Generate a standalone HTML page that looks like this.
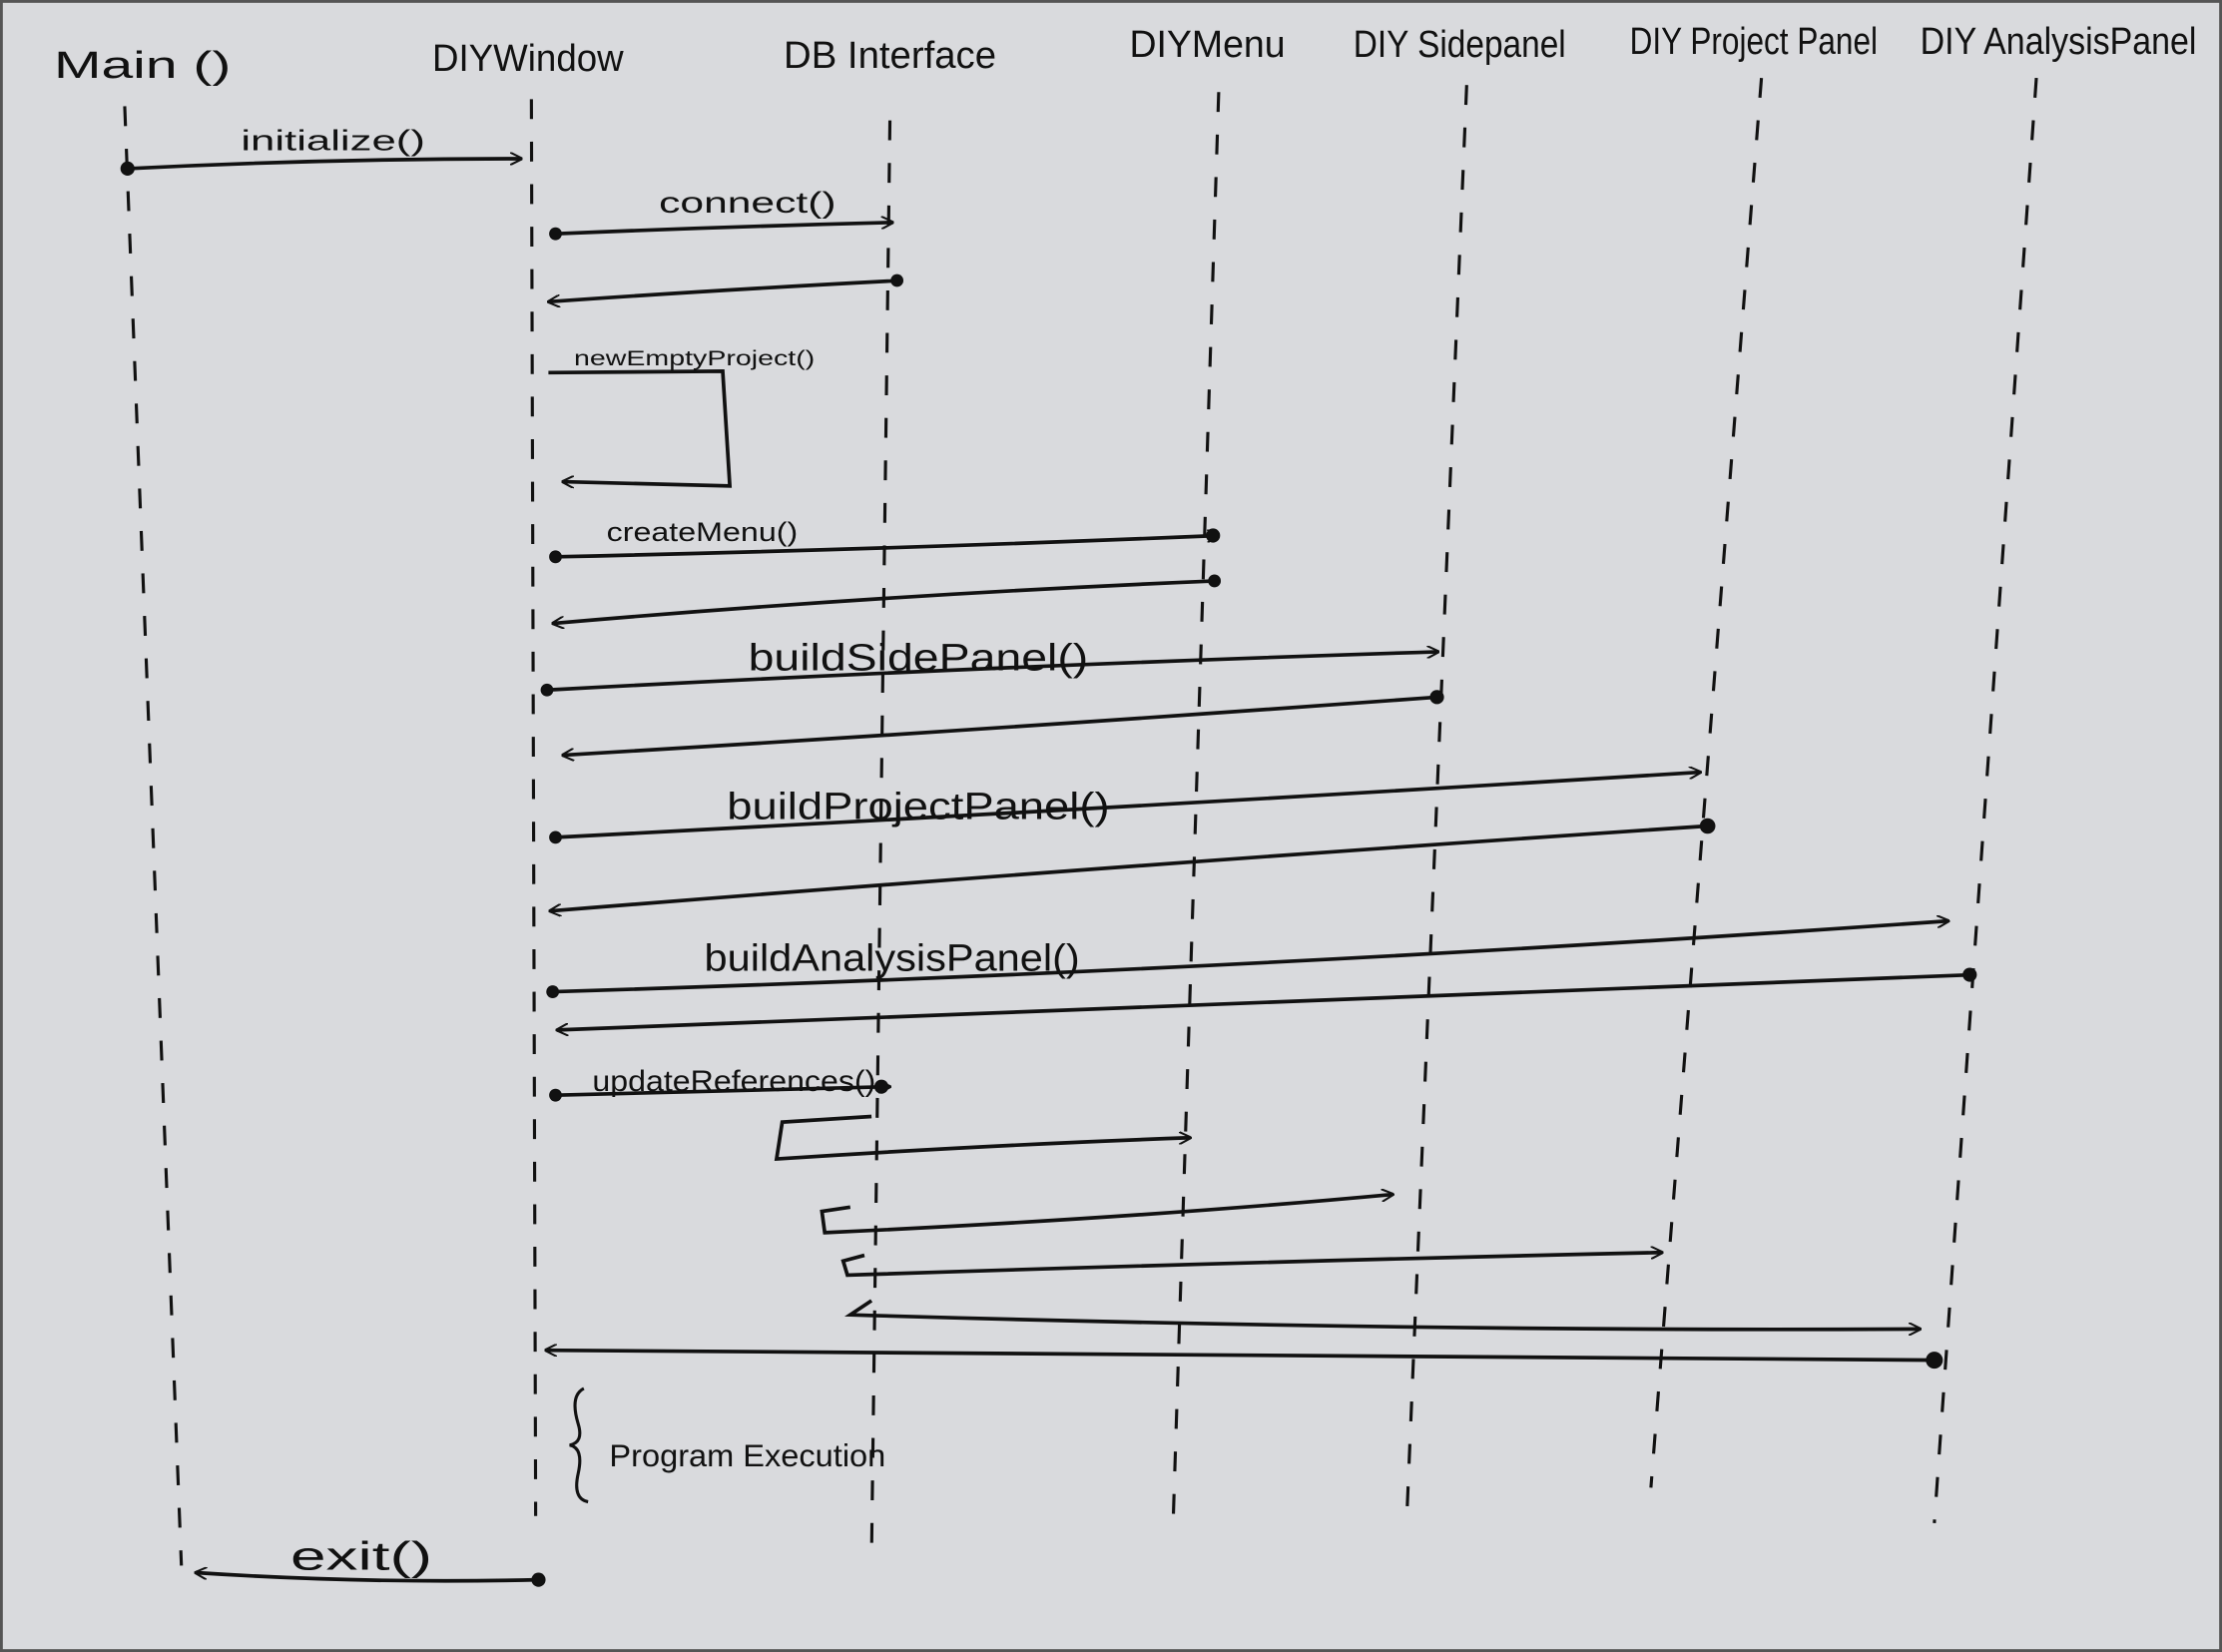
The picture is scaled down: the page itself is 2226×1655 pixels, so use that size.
<!DOCTYPE html>
<html><head><meta charset="utf-8">
<style>
html,body{margin:0;padding:0;background:#d8d9dc;}
svg{display:block;}
text{font-family:"Liberation Sans",sans-serif;fill:#111;}
</style></head>
<body>
<svg width="2226" height="1655" viewBox="0 0 1568 1166" preserveAspectRatio="none" xmlns="http://www.w3.org/2000/svg">
<defs>
<marker id="a" viewBox="0 0 10 10" refX="9" refY="5" markerWidth="9" markerHeight="9" orient="auto-start-reverse" markerUnits="userSpaceOnUse">
<path d="M0,0 L10,5 L0,10" fill="none" stroke="#111" stroke-width="1.6"/>
</marker>
</defs>
<rect x="0" y="0" width="1568" height="1166" fill="#d9dadd"/>
<rect x="1" y="1" width="1566" height="1164" fill="none" stroke="#555" stroke-width="2"/>
<g font-size="27">
<text x="38" y="55" textLength="125" lengthAdjust="spacingAndGlyphs">Main ()</text>
<text x="305" y="50" textLength="135" lengthAdjust="spacingAndGlyphs">DIYWindow</text>
<text x="553" y="48" textLength="150" lengthAdjust="spacingAndGlyphs">DB Interface</text>
<text x="797" y="40" textLength="110" lengthAdjust="spacingAndGlyphs">DIYMenu</text>
<text x="955" y="40" textLength="150" lengthAdjust="spacingAndGlyphs">DIY Sidepanel</text>
<text x="1150" y="38" textLength="175" lengthAdjust="spacingAndGlyphs">DIY Project Panel</text>
<text x="1355" y="38" textLength="195" lengthAdjust="spacingAndGlyphs">DIY AnalysisPanel</text>
</g>
<g stroke="#111" stroke-width="2.2" fill="none" stroke-dasharray="14 16">
<line x1="88" y1="75" x2="128" y2="1105"/>
<line x1="375" y1="70" x2="378" y2="1070"/>
<line x1="628" y1="85" x2="615" y2="1100"/>
<line x1="860" y1="65" x2="828" y2="1070"/>
<line x1="1035" y1="60" x2="993" y2="1065"/>
<line x1="1243" y1="55" x2="1165" y2="1050"/>
<line x1="1437" y1="55" x2="1365" y2="1075"/>
</g>
<g stroke="#111" stroke-width="2.6" fill="none" marker-end="url(#a)">
<path d="M90,119 Q230,112 368,112"/>
<path d="M392,165 Q510,160 630,157"/>
<path d="M635,198 Q500,205 387,213"/>
<path d="M387,263 L510,262 L515,343 L397,340"/>
<path d="M392,393 Q620,388 860,378"/>
<path d="M858,410 Q620,420 390,440"/>
<path d="M386,487 Q700,470 1015,460"/>
<path d="M1015,492 Q700,515 397,533"/>
<path d="M392,591 Q800,570 1200,545"/>
<path d="M1205,583 Q800,610 388,643"/>
<path d="M390,700 Q880,685 1375,650"/>
<path d="M1392,688 Q900,705 393,727"/>
<path d="M392,773 Q510,770 628,767"/>
<path d="M615,788 L552,792 L548,818 Q700,808 840,803"/>
<path d="M600,852 L580,855 L582,870 Q800,860 983,843"/>
<path d="M610,886 L595,890 L598,900 Q900,890 1173,884"/>
<path d="M615,918 L600,928 Q1000,940 1355,938"/>
<path d="M1368,960 Q880,955 385,953"/>
<path d="M380,1115 Q260,1118 138,1110"/>
</g>
<g fill="#111">
<circle cx="90" cy="119" r="5"/>
<circle cx="392" cy="165" r="4.5"/>
<circle cx="633" cy="198" r="4.5"/>
<circle cx="392" cy="393" r="4.5"/>
<circle cx="856" cy="378" r="5"/>
<circle cx="857" cy="410" r="4.5"/>
<circle cx="386" cy="487" r="4.5"/>
<circle cx="1014" cy="492" r="5"/>
<circle cx="392" cy="591" r="4.5"/>
<circle cx="1205" cy="583" r="5.5"/>
<circle cx="390" cy="700" r="4.5"/>
<circle cx="1390" cy="688" r="5"/>
<circle cx="392" cy="773" r="4.5"/>
<circle cx="622" cy="767" r="5"/>
<circle cx="1365" cy="960" r="6"/>
<circle cx="380" cy="1115" r="5"/>
</g>
<path d="M412,980 Q402,985 408,1005 Q412,1018 402,1020 Q412,1022 408,1040 Q404,1058 415,1060" stroke="#111" stroke-width="2.2" fill="none"/>
<g>
<text x="170" y="106" font-size="20" textLength="130" lengthAdjust="spacingAndGlyphs">initialize()</text>
<text x="465" y="150" font-size="21" textLength="125" lengthAdjust="spacingAndGlyphs">connect()</text>
<text x="405" y="258" font-size="15" textLength="170" lengthAdjust="spacingAndGlyphs">newEmptyProject()</text>
<text x="428" y="382" font-size="19" textLength="135" lengthAdjust="spacingAndGlyphs">createMenu()</text>
<text x="528" y="473" font-size="27" textLength="240" lengthAdjust="spacingAndGlyphs">buildSidePanel()</text>
<text x="513" y="578" font-size="27" textLength="270" lengthAdjust="spacingAndGlyphs">buildProjectPanel()</text>
<text x="497" y="685" font-size="27" textLength="265" lengthAdjust="spacingAndGlyphs">buildAnalysisPanel()</text>
<text x="418" y="770" font-size="21" textLength="200" lengthAdjust="spacingAndGlyphs">updateReferences()</text>
<text x="430" y="1035" font-size="22" textLength="195" lengthAdjust="spacingAndGlyphs">Program Execution</text>
<text x="205" y="1108" font-size="28" textLength="100" lengthAdjust="spacingAndGlyphs">exit()</text>
</g>
</svg>
</body></html>
